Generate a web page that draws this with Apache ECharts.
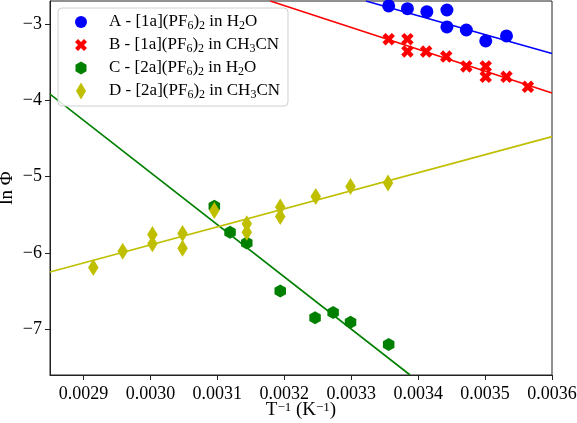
<!DOCTYPE html>
<html><head><meta charset="utf-8">
<script src="https://cdn.jsdelivr.net/npm/echarts@6/dist/echarts.min.js"></script>
<style>html,body{margin:0;padding:0;background:#fff}#c{width:577px;height:423px}</style>
</head><body><div id="c"></div>
<script>
// ---- data ----
const xA = [0.003356,0.003384,0.003413,0.003443,0.003443,0.003472,0.003501,0.003532];
const yA = [-2.765,-2.80,-2.84,-2.818,-3.04,-3.08,-3.223,-3.157];
const xB = [0.003356,0.003384,0.003384,0.003412,0.003442,0.003472,0.003501,0.003501,0.003532,0.003564];
const yB = [-3.20,-3.20,-3.36,-3.362,-3.428,-3.558,-3.558,-3.693,-3.693,-3.824];
const xC = [0.0030955,0.003119,0.003144,0.003194,0.003246,0.003273,0.003299,0.003356];
const yC = [-5.39,-5.73,-5.87,-6.50,-6.85,-6.78,-6.91,-7.20];
const xD = [0.0029147,0.0029586,0.003003,0.003003,0.003048,0.003048,0.0030955,0.003144,0.003144,0.003194,0.003194,0.003247,0.003299,0.003355];
const yD = [-6.19,-5.98,-5.76,-5.88,-5.745,-5.94,-5.444,-5.62,-5.73,-5.40,-5.525,-5.26,-5.13,-5.085];
// fitted lines (endpoints)
const fitAx = [0.003322,0.0036], fitAy = [-2.7,-3.389];
const fitBx = [0.003179,0.0036], fitBy = [-2.7,-3.906];
const fitCx = [0.00285,0.003388], fitCy = [-3.92,-7.6];
const fitDx = [0.00285,0.0036], fitDy = [-6.25,-4.477];
const xTicks = [0.0029,0.0030,0.0031,0.0032,0.0033,0.0034,0.0035,0.0036];
const yTicks = [-7,-6,-5,-4,-3];
const names = [
  'A - [1a](PF{s|6}){s|2} in H{s|2}O',
  'B - [1a](PF{s|6}){s|2} in CH{s|3}CN',
  'C - [2a](PF{s|6}){s|2} in H{s|2}O',
  'D - [2a](PF{s|6}){s|2} in CH{s|3}CN'
];
// ---- style ----
const colors = ['#0000ff','#ff0000','#008000','#bfbf00'];
const FONT = '"Liberation Serif","DejaVu Serif",serif';
const symX = 'path://M7.5 0 L10 2.5 L7.5 5 L10 7.5 L7.5 10 L5 7.5 L2.5 10 L0 7.5 L2.5 5 L0 2.5 L2.5 0 L5 2.5 Z';
const symHex = 'path://M5 0 L9.33 2.5 L9.33 7.5 L5 10 L0.67 7.5 L0.67 2.5 Z';
const symDia = 'path://M5 0 L10 8.5 L5 17 L0 8.5 Z';
const legIcons = [
  'path://M0 0 M46 17 M17 8.5 A6 6 0 1 1 29 8.5 A6 6 0 1 1 17 8.5 Z',
  'path://M0 0 M46 17 M26 2.5 L29 5.5 L26 8.5 L29 11.5 L26 14.5 L23 11.5 L20 14.5 L17 11.5 L20 8.5 L17 5.5 L20 2.5 L23 5.5 Z',
  'path://M0 0 M46 17 M23 2 L28.5 5.25 L28.5 11.75 L23 15 L17.5 11.75 L17.5 5.25 Z',
  'path://M0 0 M46 17 M23 0 L28 8.5 L23 17 L18 8.5 Z'
];
const zip = (xs, ys) => xs.map((x, i) => [x, ys[i]]);
const scat = [
  {d: zip(xA, yA), sym: 'circle', size: 13},
  {d: zip(xB, yB), sym: symX, size: 12.5},
  {d: zip(xC, yC), sym: symHex, size: [11.5, 13]},
  {d: zip(xD, yD), sym: symDia, size: [10.5, 17]}
];
const fits = [zip(fitAx, fitAy), zip(fitBx, fitBy), zip(fitCx, fitCy), zip(fitDx, fitDy)];
const series = [];
fits.forEach((f, i) => series.push({
  type: 'line', data: f, showSymbol: false, symbol: 'none', silent: true,
  lineStyle: {color: colors[i], width: 1.6}, z: 2, clip: true
}));
scat.forEach((s, i) => series.push({
  type: 'scatter', name: names[i], data: s.d, symbol: s.sym, symbolSize: s.size,
  itemStyle: {color: colors[i], opacity: 1}, z: 3 + i
}));
const chart = echarts.init(document.getElementById('c'), null, {renderer: 'canvas'});
chart.setOption({
  animation: false,
  backgroundColor: '#fff',
  grid: {left: 50, right: 25, top: 1, bottom: 48, show: true, borderColor: '#222', borderWidth: 1,
         containLabel: false, outerBoundsMode: 'none'},
  legend: {
    orient: 'vertical', left: 58, top: 8, padding: [4, 8, 5, 0],
    itemWidth: 46, itemHeight: 17, itemGap: 3,
    backgroundColor: 'rgba(255,255,255,0.85)', borderColor: '#d0d0d0', borderWidth: 1, borderRadius: 4,
    data: names.map((n, i) => ({name: n, icon: legIcons[i], itemStyle: {color: colors[i]}})),
    textStyle: {
      fontFamily: FONT, fontSize: 17, color: '#000', lineHeight: 20,
      rich: {s: {fontFamily: FONT, fontSize: 12, verticalAlign: 'bottom', lineHeight: 20, color: '#000'}}
    },
    selectedMode: false
  },
  xAxis: {
    type: 'value', min: 0.00285, max: 0.0036,
    name: 'T{p|−1} (K{p|−1})', nameLocation: 'middle', nameGap: 26, nameMoveOverlap: false,
    nameTextStyle: {fontFamily: FONT, fontSize: 19, color: '#000',
      rich: {p: {fontFamily: FONT, fontSize: 13, verticalAlign: 'top', color: '#000'}}},
    axisLine: {show: true, onZero: false, lineStyle: {color: '#222', width: 1}},
    axisTick: {show: true, length: 5, customValues: xTicks, lineStyle: {color: '#222'}},
    axisLabel: {customValues: xTicks, formatter: v => v.toFixed(4), fontFamily: FONT, fontSize: 18, color: '#000', margin: 10},
    splitLine: {show: false}
  },
  yAxis: {
    type: 'value', min: -7.6, max: -2.7,
    name: 'ln Φ', nameLocation: 'middle', nameGap: 33, nameRotate: 90, nameMoveOverlap: false,
    nameTextStyle: {fontFamily: FONT, fontSize: 19, color: '#000'},
    axisLine: {show: true, onZero: false, lineStyle: {color: '#222', width: 1}},
    axisTick: {show: true, length: 5, customValues: yTicks, lineStyle: {color: '#222'}},
    axisLabel: {customValues: yTicks, formatter: v => String(v).replace('-', '−'), fontFamily: FONT, fontSize: 18, color: '#000', margin: 8},
    splitLine: {show: false}
  },
  series: series
});
</script></body></html>
